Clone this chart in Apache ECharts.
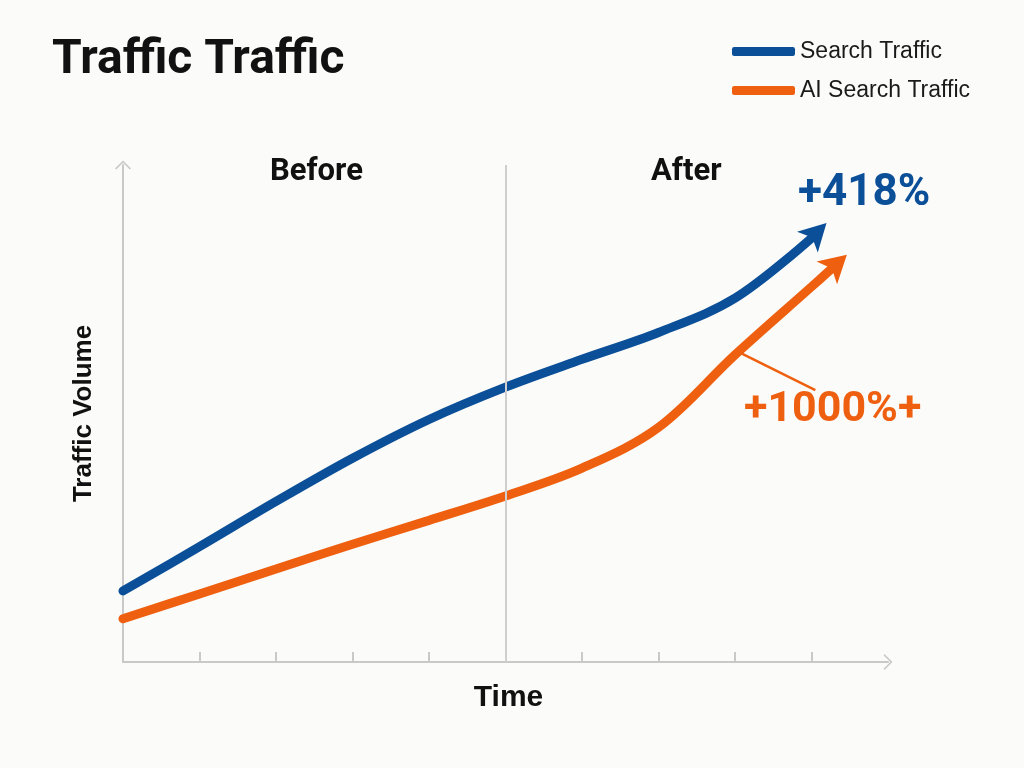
<!DOCTYPE html>
<html>
<head>
<meta charset="utf-8">
<script src="https://cdn.jsdelivr.net/npm/echarts@6/dist/echarts.min.js"></script>
<style>
  html, body { margin: 0; padding: 0; background: #fbfbf9; }
  #chart { width: 1024px; height: 768px; }
</style>
</head>
<body>
<div id="chart"></div>
<script>
// time steps (0..10 on the x axis, divider at 5)
var timeSteps = [0, 1, 2, 3, 4, 5, 6, 7, 8, 9];
var searchTraffic = [14.3, 23.2, 32.3, 41.0, 48.8, 55.3, 60.9, 66.3, 73.2];
var searchEnd = [9.0, 85.3];
var aiTraffic = [8.7, 13.7, 18.7, 23.7, 28.5, 33.4, 39.0, 47.2, 61.8, 75.5];
var aiEnd = [9.26, 79.1];
var tickValues = [1, 2, 3, 4, 6, 7, 8, 9];
var dividerAt = 5;
var leader = [[8.07, 62.2], [9.05, 54.7]];

var blue = '#0b4f99';
var orange = '#ee600f';
var chevron = 'path://M0,10 L10,0 L20,10 L18.4,11.2 L10,2.8 L1.6,11.2 Z';

function buildData(vals, end, rot, size, offset) {
  var out = [];
  for (var i = 0; i < vals.length; i++) {
    out.push([timeSteps[i], vals[i]]);
  }
  // arrow head on the last point
  out.push({
    value: end,
    symbol: 'arrow',
    symbolSize: size,
    symbolRotate: rot,
    symbolOffset: offset
  });
  return out;
}

var chart = echarts.init(document.getElementById('chart'));

var option = {
  backgroundColor: '#fbfbf9',
  title: {
    text: 'Traffic Traffic',
    left: 47,
    top: 32,
    textStyle: {
      fontFamily: 'Roboto',
      fontWeight: 'bold',
      fontSize: 48,
      color: '#111'
    }
  },
  legend: {
    orient: 'vertical',
    left: 727,
    top: 35,
    itemWidth: 63,
    itemHeight: 9,
    itemGap: 16,
    icon: 'roundRect',
    data: ['Search Traffic', 'AI Search Traffic'],
    textStyle: {
      fontFamily: 'Liberation Sans',
      fontSize: 23,
      color: '#1a1a1a'
    }
  },
  grid: {
    left: 123,
    right: 136,
    top: 165,
    bottom: 106
  },
  xAxis: {
    type: 'value',
    min: 0,
    max: 10,
    interval: 1,
    name: 'Time',
    nameLocation: 'middle',
    nameGap: 21,
    nameTextStyle: {
      fontFamily: 'Liberation Sans',
      fontWeight: 'bold',
      fontSize: 30,
      color: '#111',
      padding: [0, 0, 0, 6]
    },
    axisLine: {
      lineStyle: { color: '#c9c9c9', width: 2 },
      symbol: ['none', chevron],
      symbolSize: [16, 10]
    },
    axisTick: {
      show: true,
      inside: true,
      length: 10,
      customValues: tickValues,
      lineStyle: { color: '#c9c9c9', width: 2 }
    },
    axisLabel: { show: false },
    splitLine: { show: false }
  },
  yAxis: {
    type: 'value',
    min: 0,
    max: 100,
    name: 'Traffic Volume',
    nameLocation: 'middle',
    nameGap: 26,
    nameRotate: 90,
    nameTextStyle: {
      fontFamily: 'Liberation Sans',
      fontWeight: 'bold',
      fontSize: 26,
      color: '#111'
    },
    axisLine: {
      show: true,
      lineStyle: { color: '#c9c9c9', width: 2 },
      symbol: ['none', chevron],
      symbolSize: [16, 10]
    },
    axisTick: { show: false },
    axisLabel: { show: false },
    splitLine: { show: false }
  },
  graphic: [
    {
      type: 'text', left: 270, top: 157,
      style: { text: 'Before', font: 'bold 31px Roboto', fill: '#111' }
    },
    {
      type: 'text', left: 651, top: 157,
      style: { text: 'After', font: 'bold 31px Roboto', fill: '#111' }
    },
    {
      type: 'text', left: 798, top: 172,
      style: { text: '+418%', font: 'bold 44px Roboto', fill: blue }
    },
    {
      type: 'text', left: 744, top: 389,
      style: { text: '+1000%+', font: 'bold 43px Roboto', fill: orange }
    }
  ],
  series: [
    {
      name: 'Search Traffic',
      type: 'line',
      smooth: 0.35,
      symbol: 'none',
      color: blue,
      lineStyle: { width: 9, cap: 'round' },
      itemStyle: { color: blue },
      data: buildData(searchTraffic, searchEnd, -45, [22, 27], [15, -15]),
      markLine: {
        silent: true,
        symbol: 'none',
        label: { show: false },
        lineStyle: { color: '#cfcfcf', width: 2, type: 'solid' },
        data: [{ xAxis: dividerAt }]
      },
      z: 3
    },
    {
      name: 'AI Search Traffic',
      type: 'line',
      smooth: 0.35,
      symbol: 'none',
      color: orange,
      lineStyle: { width: 9, cap: 'round' },
      itemStyle: { color: orange },
      data: buildData(aiTraffic, aiEnd, -48, [23, 27], [15.5, -14]),
      markLine: {
        silent: true,
        symbol: 'none',
        label: { show: false },
        lineStyle: { color: orange, width: 2.5, type: 'solid' },
        data: [[{ coord: leader[0] }, { coord: leader[1] }]]
      },
      z: 2
    }
  ]
};

chart.setOption(option);
</script>
</body>
</html>
